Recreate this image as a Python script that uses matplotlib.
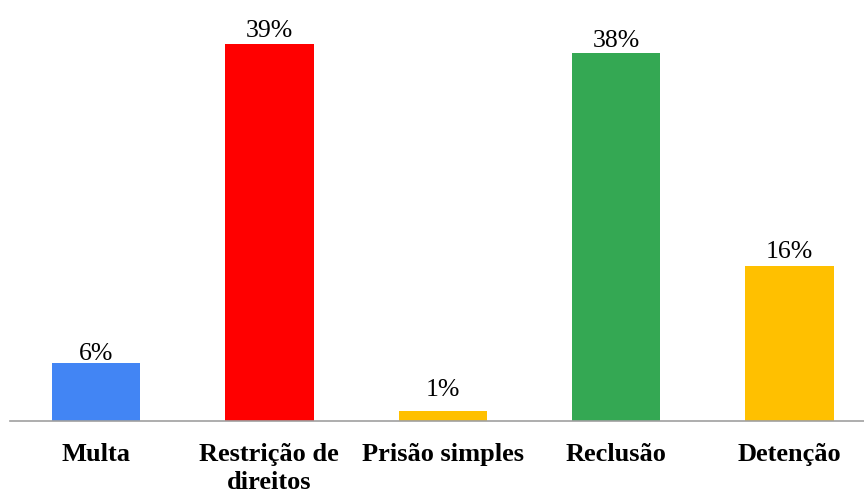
import matplotlib
matplotlib.use("Agg")
import matplotlib.pyplot as plt

categories = ["Multa", "Restrição de\ndireitos", "Prisão simples", "Reclusão", "Detenção"]
values = [6, 39, 1, 38, 16]
colors = ["#4285F4", "#FF0000", "#FFC000", "#34A853", "#FFC000"]
# vertical gap (points) between each bar top and its value label baseline
label_gaps = [2.2, 4.8, 11.3, 4.8, 6.0]

plt.rcParams["font.family"] = ["Liberation Serif", "DejaVu Serif"]

fig = plt.figure(figsize=(8.64, 4.92), dpi=100)
ax = fig.add_axes([0.0116, 0.1443, 0.9884, 0.8557])

x = range(len(categories))
bars = ax.bar(x, values, width=0.51, color=colors)
for xi, v, g in zip(x, values, label_gaps):
    ax.annotate(f"{v}%", (xi, v), xytext=(0, g), textcoords="offset points",
                ha="center", va="baseline", fontsize=18.5, color="#000000")

ax.set_xlim(-0.496, 4.43)
ax.set_ylim(0, 43.5)
ax.set_xticks(list(x))
ax.set_xticklabels(categories, fontsize=19, fontweight="bold", linespacing=1.25)
ax.tick_params(axis="x", length=0, pad=16)
ax.set_yticks([])
for side in ["top", "right", "left"]:
    ax.spines[side].set_visible(False)
ax.spines["bottom"].set_color("#A0A0A0")
ax.spines["bottom"].set_linewidth(1.2)

fig.savefig("out.png", dpi=100)
